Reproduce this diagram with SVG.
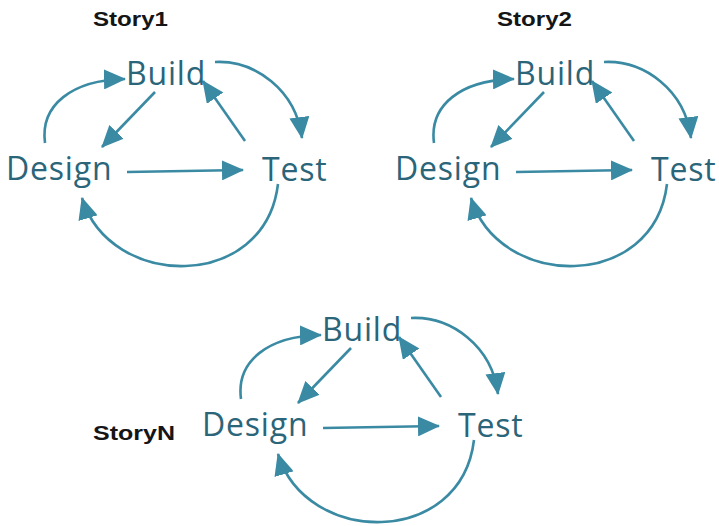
<svg xmlns="http://www.w3.org/2000/svg" width="719" height="526" viewBox="0 0 719 526">
  <defs>
    <style>
      .story { font-family: "Liberation Sans", Arial, sans-serif; font-weight: bold; font-size: 20px; fill: #151515; }
      .node { font-family: "Open Sans", "Noto Sans", sans-serif; font-size: 32px; letter-spacing: 0.8px; fill: #2a6579; }
      .edge { fill: none; stroke: #3a8aa3; stroke-width: 2.6; marker-end: url(#head); }
    </style>
    <marker id="head" viewBox="0 0 22 20" refX="21" refY="10" markerWidth="22" markerHeight="20" markerUnits="userSpaceOnUse" orient="auto">
      <path d="M0,0 L22,10 L0,20 Z" fill="#3a8aa3"/>
    </marker>
    <!-- one Design/Build/Test cycle, reused for each story -->
    <g id="cycle">
      <g id="connectors">
        <path class="edge" d="M45,143 C40,105 72,80 125,79"/>
        <path class="edge" d="M155,92 L102,147"/>
        <path class="edge" d="M245,141 L203,81"/>
        <path class="edge" d="M215,62 C255,60 296,90 302,138"/>
        <path class="edge" d="M127,172 L243,170"/>
        <path class="edge" d="M278,184 C265,292 110,290 82,198"/>
      </g>
      <g id="node-build"><text class="node" x="126" y="85">Build</text></g>
      <g id="node-design"><text class="node" x="6" y="180">Design</text></g>
      <g id="node-test"><text class="node" x="262" y="181">Test</text></g>
    </g>
  </defs>

  <rect width="719" height="526" fill="#ffffff"/>

  <g id="story1">
    <text class="story" x="93" y="26" textLength="75" lengthAdjust="spacingAndGlyphs">Story1</text>
    <use href="#cycle"/>
  </g>

  <g id="story2">
    <text class="story" x="497" y="26" textLength="75" lengthAdjust="spacingAndGlyphs">Story2</text>
    <use href="#cycle" transform="translate(389,0)"/>
  </g>

  <g id="storyN">
    <text class="story" x="93" y="440" textLength="82" lengthAdjust="spacingAndGlyphs">StoryN</text>
    <use href="#cycle" transform="translate(196,256)"/>
  </g>
</svg>
